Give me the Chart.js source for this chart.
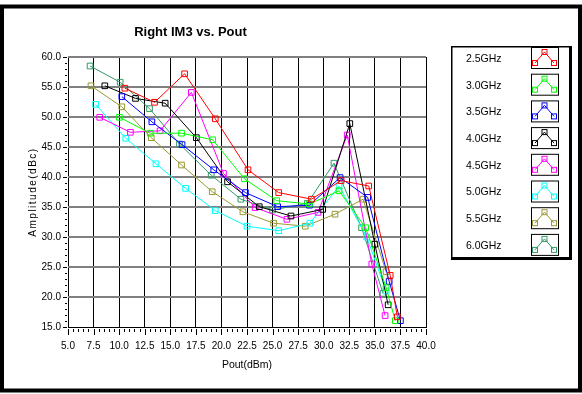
<!DOCTYPE html>
<html>
<head>
<meta charset="utf-8">
<script src="https://cdn.jsdelivr.net/npm/chart.js@4/dist/chart.umd.min.js"></script>
<style>
html,body{margin:0;padding:0;background:#fff;}
#wrap{position:relative;width:582px;height:394px;}
</style>
</head>
<body>
<div id="wrap"><canvas id="c" width="582" height="394"></canvas></div>
<script>
// ---- data ----
const seriesNames = ['2.5GHz','3.0GHz','3.5GHz','4.0GHz','4.5GHz','5.0GHz','5.5GHz','6.0GHz'];
const seriesColors = ['#ff0000','#00ff00','#0000ff','#000000','#ff00ff','#00ffff','#999933','#339966'];

const pout25 = [10.56, 13.46, 16.4, 19.4, 22.6, 25.6, 28.8, 31.7, 34.4, 36.5, 37.2];
const im3_25 = [54.8, 52.45, 57.2, 49.7, 41.2, 37.4, 36.3, 39.4, 38.5, 23.6, 16.7];

const pout30 = [10.03, 13.04, 16.1, 19.15, 22.25, 25.4, 28.6, 31.5, 34.1, 36.1, 37.0];
const im3_30 = [49.95, 47.3, 47.3, 46.2, 39.7, 36.05, 35.5, 37.7, 31.55, 21.55, 16.05];

const pout35 = [10.26, 13.2, 16.15, 19.25, 22.35, 25.5, 28.6, 31.6, 34.3, 36.4, 37.5];
const im3_35 = [53.4, 49.2, 45.4, 41.2, 37.4, 35.05, 35.3, 39.9, 36.6, 22.6, 16.05];

const pout40 = [8.6, 11.6, 14.5, 17.55, 20.6, 23.7, 26.8, 29.9, 32.55, 35.0, 36.3];
const im3_40 = [55.2, 53.1, 52.3, 46.55, 39.2, 35.05, 33.5, 34.6, 48.9, 28.8, 18.7];

const pout45 = [8.1, 11.1, 14.0, 17.06, 20.2, 23.3, 26.4, 29.45, 32.3, 34.7, 36.0];
const im3_45 = [49.95, 47.45, 47.7, 54.1, 40.6, 34.9, 32.95, 34.1, 47.0, 25.5, 16.9];

const pout50 = [7.7, 10.65, 13.6, 16.5, 19.4, 22.5, 25.6, 28.65, 31.5, 34.2, 36.1];
const im3_50 = [52.1, 46.45, 42.2, 38.1, 34.4, 31.8, 31.05, 32.3, 38.5, 30.0, 21.0];

const pout55 = [7.25, 10.26, 13.14, 16.1, 19.1, 22.1, 25.1, 28.2, 31.1, 33.85, 36.1];
const im3_55 = [55.2, 51.7, 46.55, 42.0, 37.55, 34.2, 32.3, 31.8, 33.8, 36.3, 24.2];

const pout60 = [7.16, 10.1, 12.97, 15.9, 19.0, 21.9, 25.0, 28.4, 31.0, 33.7, 35.8];
const im3_60 = [58.5, 55.8, 51.4, 45.5, 40.3, 36.3, 34.5, 35.6, 42.3, 31.55, 20.6];

const xValues = [pout25, pout30, pout35, pout40, pout45, pout50, pout55, pout60];
const yValues = [im3_25, im3_30, im3_35, im3_40, im3_45, im3_50, im3_55, im3_60];

const xMin = 5, xMax = 40, xMajor = 2.5, xMinor = 0.5;
const yMin = 15, yMax = 60, yMajor = 5, yMinor = 1;

const titleText = 'Right IM3 vs. Pout';
const xTitle = 'Pout(dBm)';
const yTitle = 'Amplitude(dBc)';

// ---- build ----
const FONT = '"Liberation Sans", Arial, sans-serif';
const isMul = (v, m) => Math.abs(v / m - Math.round(v / m)) < 1e-6;

const datasets = seriesNames.map((name, i) => ({
  label: name,
  data: xValues[i].map((x, j) => ({x: x, y: yValues[i][j]})),
  borderColor: seriesColors[i],
  backgroundColor: 'rgba(0,0,0,0)',
  pointBackgroundColor: 'rgba(0,0,0,0)',
  pointBorderColor: seriesColors[i],
  pointStyle: 'rect',
  pointRadius: 4,
  pointBorderWidth: 1,
  borderWidth: 1,
  tension: 0,
  fill: false
}));

const decor = {
  id: 'decor',
  beforeDraw(chart) {
    const ctx = chart.ctx;
    ctx.save();
    ctx.fillStyle = '#fff';
    ctx.fillRect(0, 0, chart.width, chart.height);
    ctx.restore();
  },
  afterDraw(chart) {
    const ctx = chart.ctx;
    const xs = chart.scales.x, ys = chart.scales.y;
    const area = chart.chartArea;
    ctx.save();
    // tick marks on y
    ctx.strokeStyle = '#000';
    ctx.lineWidth = 1;
    for (let v = yMin; v <= yMax + 1e-9; v += yMinor) {
      const py = Math.round(ys.getPixelForValue(v)) + 0.5;
      const major = isMul(v, yMajor);
      ctx.beginPath();
      ctx.moveTo(major ? area.left - 5 : area.left - 3, py);
      ctx.lineTo(area.left - 1, py);
      ctx.stroke();
    }
    // tick marks on x
    for (let v = xMin; v <= xMax + 1e-9; v += xMinor) {
      const px = Math.round(xs.getPixelForValue(v)) + 0.5;
      const major = isMul(v, xMajor);
      ctx.beginPath();
      ctx.moveTo(px, area.bottom + 2);
      ctx.lineTo(px, area.bottom + (major ? 8 : 5));
      ctx.stroke();
    }
    // title
    ctx.fillStyle = '#000';
    ctx.textAlign = 'center';
    ctx.textBaseline = 'middle';
    ctx.font = 'bold 13px ' + FONT;
    ctx.fillText(titleText, 190.5, 32);
    // x title
    ctx.font = '10.5px ' + FONT;
    ctx.fillText(xTitle, (area.left + area.right) / 2, 365);
    // y title
    ctx.save();
    ctx.translate(33, (area.top + area.bottom) / 2);
    ctx.rotate(-Math.PI / 2);
    ctx.font = '10px ' + FONT;
    try { ctx.letterSpacing = '1.5px'; } catch (e) {}
    ctx.fillText(yTitle, 0, 0);
    ctx.restore();

    // legend
    const lx = 451, ly = 46, lw = 118, lh = 211;
    ctx.fillStyle = '#fff';
    ctx.fillRect(lx, ly, lw, lh);
    ctx.strokeStyle = '#000';
    ctx.lineWidth = 1.5;
    ctx.strokeRect(lx + 0.75, ly + 0.75, lw, lh);
    ctx.lineWidth = 3;
    ctx.beginPath();
    ctx.moveTo(lx + lw + 1.5, ly);
    ctx.lineTo(lx + lw + 1.5, ly + lh + 3);
    ctx.moveTo(lx, ly + lh + 1.5);
    ctx.lineTo(lx + lw + 3, ly + lh + 1.5);
    ctx.stroke();
    ctx.textAlign = 'left';
    ctx.font = '10.5px ' + FONT;
    const step = 26.7;
    seriesNames.forEach((name, i) => {
      const cy = 59 + i * step;
      ctx.fillStyle = '#000';
      ctx.fillText(name, 466, cy);
      // icon box
      const bx = 531.5, by = cy - 11.5, bw = 27, bh = 21;
      ctx.strokeStyle = '#000';
      ctx.lineWidth = 1;
      ctx.strokeRect(bx, by, bw, bh);
      const pts = [[bx + 3.5, by + 15.5], [bx + 13, by + 4.5], [bx + 22.5, by + 15.5]];
      ctx.strokeStyle = seriesColors[i];
      ctx.beginPath();
      ctx.moveTo(pts[0][0], pts[0][1]);
      ctx.lineTo(pts[1][0], pts[1][1]);
      ctx.lineTo(pts[2][0], pts[2][1]);
      ctx.stroke();
      pts.forEach(p => {
        ctx.strokeRect(p[0] - 2.5, p[1] - 2.5, 5, 5);
      });
    });

    // outer frame
    ctx.strokeStyle = '#000';
    ctx.lineWidth = 4;
    ctx.strokeRect(2, 6.5, 578, 384);
    ctx.restore();
  }
};

new Chart(document.getElementById('c'), {
  type: 'line',
  data: {datasets: datasets},
  options: {
    responsive: false,
    animation: false,
    events: [],
    layout: {padding: {left: 0, top: 57, right: 156, bottom: 0}},
    plugins: {legend: {display: false}, title: {display: false}, tooltip: {enabled: false}},
    scales: {
      x: {
        type: 'linear',
        min: xMin, max: xMax,
        afterFit(s) { s.height = 67; },
        border: {display: true, color: '#000', width: 1},
        grid: {
          drawTicks: false,
          color: c => isMul(c.tick.value, xMajor) ? '#000' : 'rgba(0,0,0,0)',
          lineWidth: 1
        },
        ticks: {
          stepSize: xMinor,
          autoSkip: false,
          maxRotation: 0,
          padding: 13,
          color: '#000',
          font: {family: FONT, size: 10},
          callback: v => isMul(v, xMajor) ? Number(v).toFixed(1) : ''
        }
      },
      y: {
        type: 'linear',
        min: yMin, max: yMax,
        afterFit(s) { s.width = 68; },
        border: {display: false},
        grid: {
          drawTicks: false,
          color: c => c.tick.value === yMin ? '#000' : (isMul(c.tick.value, yMajor) ? '#808080' : 'rgba(0,0,0,0)'),
          lineWidth: c => c.tick.value === yMin ? 1 : 2
        },
        ticks: {
          stepSize: yMinor,
          autoSkip: false,
          padding: 7,
          color: '#000',
          font: {family: FONT, size: 10},
          callback: v => isMul(v, yMajor) ? Number(v).toFixed(1) : ''
        }
      }
    }
  },
  plugins: [decor]
});
</script>
</body>
</html>
